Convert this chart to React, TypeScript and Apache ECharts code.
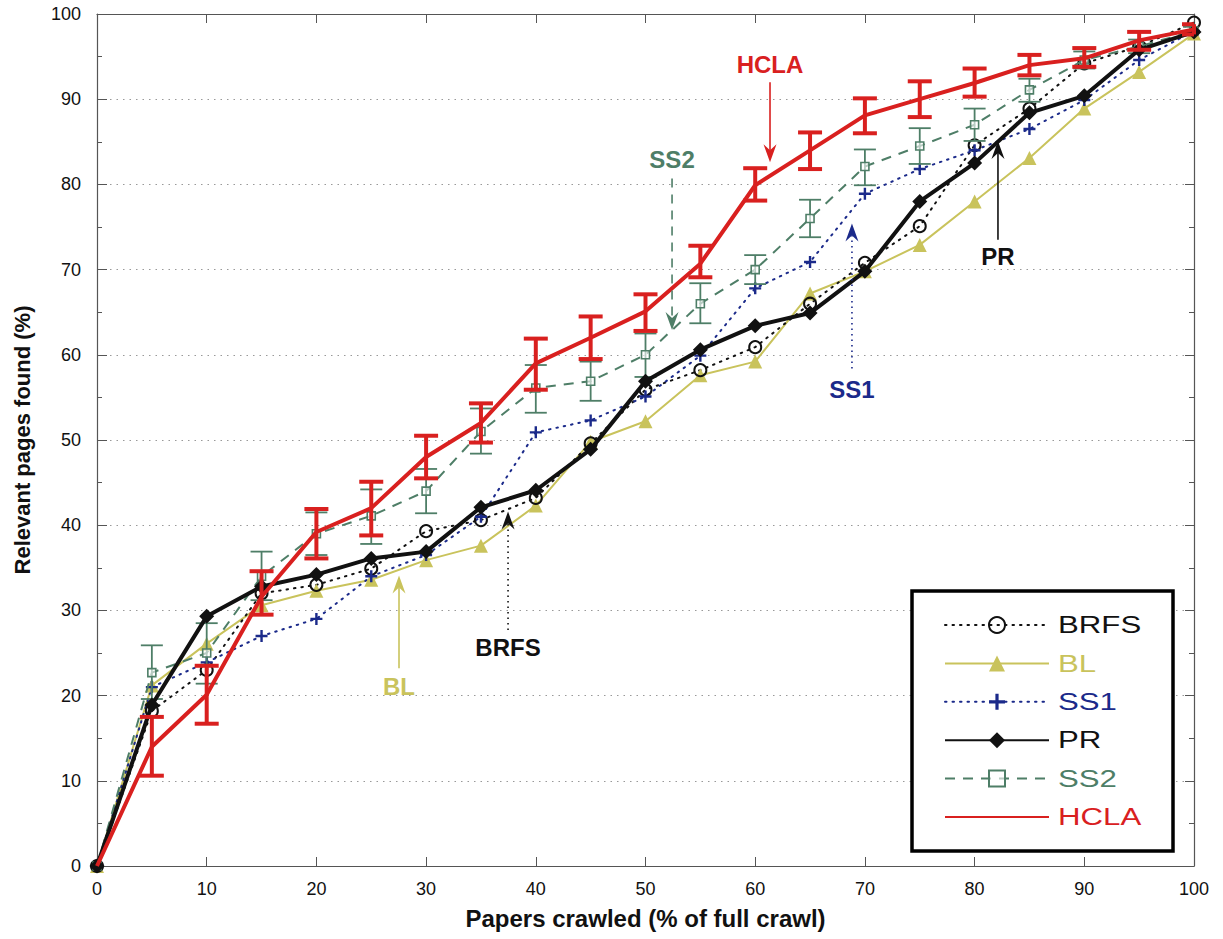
import React, { useEffect, useRef } from "react";
import * as echarts from "echarts";

const X = [0, 5, 10, 15, 20, 25, 30, 35, 40, 45, 50, 55, 60, 65, 70, 75, 80, 85, 90, 95, 100];
const BRFS = [0, 18.2, 23.0, 32.0, 33.0, 34.9, 39.3, 40.6, 43.2, 49.6, 55.9, 58.2, 60.9, 66.0, 70.8, 75.1, 84.6, 88.9, 94.2, 96.2, 99.0];
const BL = [0, 21.2, 26.1, 30.6, 32.3, 33.6, 35.9, 37.6, 42.3, 49.8, 52.2, 57.6, 59.2, 67.2, 69.8, 72.9, 78.0, 83.1, 88.9, 93.2, 97.7];
const SS1 = [0, 21.0, 23.9, 27.0, 29.0, 34.0, 36.5, 41.0, 50.9, 52.3, 55.1, 59.9, 67.8, 70.9, 78.9, 81.8, 84.0, 86.5, 89.9, 94.6, 98.0];
const PR = [0, 18.9, 29.3, 32.8, 34.2, 36.1, 36.9, 42.1, 44.1, 48.9, 56.9, 60.6, 63.4, 64.9, 69.8, 78.0, 82.5, 88.4, 90.4, 95.8, 97.9];
const SS2 = [0, 22.7, 25.0, 34.0, 39.0, 41.1, 44.0, 51.0, 56.1, 56.9, 60.0, 66.0, 70.0, 76.0, 82.1, 84.5, 87.0, 91.1, 94.6, 96.2, 98.0];
const SS2_LO = [0, 19.6, 21.4, 31.2, 36.5, 37.8, 41.4, 48.4, 53.2, 54.6, 57.4, 63.7, 68.3, 73.8, 79.9, 82.4, 85.1, 89.7, 93.6, 95.4, 97.5];
const SS2_HI = [0, 25.9, 28.5, 36.9, 41.5, 44.2, 46.6, 53.7, 58.8, 59.2, 62.5, 68.4, 71.7, 78.2, 84.1, 86.6, 88.9, 92.4, 95.6, 97.0, 98.5];
const HCLA = [0, 14.0, 20.1, 31.6, 39.2, 42.0, 48.0, 52.0, 59.0, 62.0, 65.1, 70.7, 79.9, 84.0, 88.1, 90.0, 91.9, 94.0, 94.8, 96.9, 98.2];
const HCLA_LO = [0, 10.6, 16.7, 29.5, 36.1, 38.8, 45.5, 49.7, 55.9, 59.5, 62.8, 69.1, 78.1, 81.8, 86.0, 87.9, 90.3, 92.8, 93.8, 95.8, 97.6];
const HCLA_HI = [0, 17.5, 23.5, 34.6, 41.9, 45.1, 50.5, 54.3, 61.9, 64.5, 67.1, 72.8, 81.9, 86.1, 90.1, 92.1, 93.6, 95.2, 96.0, 97.9, 98.8];

const LEGEND_ORDER = ["BRFS", "BL", "SS1", "PR", "SS2", "HCLA"];
const X_TITLE = "Papers crawled (% of full crawl)";
const Y_TITLE = "Relevant pages found (%)";

const RED = "#d9201f";
const YEL = "#c9c35c";
const BLUE = "#1b2a8a";
const GREEN = "#4e7e67";
const BLACK = "#111111";
const FONT = "'Liberation Sans', Arial, Helvetica, sans-serif";
const LEGEND_COLORS: Record<string, string> = { BRFS: BLACK, BL: YEL, SS1: BLUE, PR: BLACK, SS2: GREEN, HCLA: RED };

const PLUS = "path://M4,0 L6,0 L6,4 L10,4 L10,6 L6,6 L6,10 L4,10 L4,6 L0,6 L0,4 L4,4 Z";

// annotation label / arrow positions in data coordinates
const ANNOTATIONS = [
  { label: "HCLA", color: RED, text: [61.35, 94.1], from: [61.35, 92.0], to: [61.35, 82.6], dash: null as number[] | null },
  { label: "SS2", color: GREEN, text: [52.42, 82.9], from: [52.42, 80.7], to: [52.42, 62.9], dash: [9, 7] },
  { label: "SS1", color: BLUE, text: [68.82, 55.9], from: [68.82, 58.4], to: [68.82, 75.4], dash: [1.5, 4] },
  { label: "PR", color: BLACK, text: [82.13, 71.5], from: [82.13, 73.5], to: [82.13, 85.1], dash: null },
  { label: "BRFS", color: BLACK, text: [37.47, 25.6], from: [37.47, 27.7], to: [37.47, 41.6], dash: [1.5, 4] },
  { label: "BL", color: YEL, text: [27.53, 21.1], from: [27.53, 23.2], to: [27.53, 34.1], dash: null },
];

const ERRORS = [
  { lo: SS2_LO, hi: SS2_HI, color: GREEN, width: 1.8, cap: 11, z: 4 },
  { lo: HCLA_LO, hi: HCLA_HI, color: RED, width: 4, cap: 12, z: 6 },
];

const pairs = (ys: number[]) => X.map((x, i) => [x, ys[i]]);

function makeOption(): any {
  const mkLine = () => ({ show: true, onZero: false, lineStyle: { color: "#555", width: 1.2 } });
  return {
    animation: false,
    grid: { left: 97, right: 29, top: 14, bottom: 73 },
    xAxis: [
      {
        type: "value", min: 0, max: 100, interval: 10, position: "bottom",
        axisLine: mkLine(), axisTick: { inside: true, length: 9, lineStyle: { color: "#555" } },
        axisLabel: { fontSize: 18, color: "#111", margin: 14, fontFamily: FONT },
        splitLine: { show: false },
      },
      {
        type: "value", min: 0, max: 100, interval: 10, position: "top",
        axisLine: mkLine(), axisTick: { inside: true, length: 9, lineStyle: { color: "#555" } },
        axisLabel: { show: false },
        splitLine: { show: false },
      },
    ],
    yAxis: [
      {
        type: "value", min: 0, max: 100, interval: 10, position: "left",
        axisLine: mkLine(), axisTick: { inside: true, length: 10, lineStyle: { color: "#555" } },
        minorTick: { show: true, splitNumber: 2, length: 5, lineStyle: { color: "#555" } },
        axisLabel: { fontSize: 18, color: "#111", margin: 16, fontFamily: FONT },
        splitLine: { show: true, lineStyle: { color: "#999", type: [1.5, 5], width: 1.2 } },
      },
      {
        type: "value", min: 0, max: 100, interval: 10, position: "right",
        axisLine: mkLine(), axisTick: { inside: true, length: 9, lineStyle: { color: "#555" } },
        minorTick: { show: true, splitNumber: 2, length: 5, lineStyle: { color: "#555" } },
        axisLabel: { show: false },
        splitLine: { show: false },
      },
    ],
    legend: {
      data: LEGEND_ORDER.map((n) => (n === "HCLA" ? { name: n, itemStyle: { opacity: 0 } } : { name: n })),
      orient: "vertical",
      left: 944,
      top: 613,
      itemWidth: 104,
      itemHeight: 20,
      itemGap: 14.4,
      padding: 0,
      selectedMode: false,
      z: 6,
      textStyle: { fontSize: 24, fontFamily: FONT, lineHeight: 24, color: "rgba(0,0,0,0)" },
    },
    series: [
      {
        name: "BL", type: "line", data: pairs(BL), z: 3,
        symbol: "triangle", symbolSize: 14,
        itemStyle: { color: YEL },
        lineStyle: { color: YEL, width: 2 },
      },
      {
        name: "BRFS", type: "line", data: pairs(BRFS), z: 3,
        symbol: "circle", symbolSize: 12,
        itemStyle: { color: "rgba(255,255,255,0)", borderColor: BLACK, borderWidth: 2 },
        lineStyle: { color: BLACK, width: 2, type: [1.5, 6], cap: "round" },
      },
      {
        name: "SS1", type: "line", data: pairs(SS1), z: 3,
        symbol: PLUS, symbolSize: 12,
        itemStyle: { color: BLUE },
        lineStyle: { color: BLUE, width: 2, type: [1.5, 6], cap: "round" },
      },
      {
        name: "SS2", type: "line", data: pairs(SS2), z: 4,
        symbol: "rect", symbolSize: 8,
        itemStyle: { color: "rgba(255,255,255,0.6)", borderColor: GREEN, borderWidth: 1.6 },
        lineStyle: { color: GREEN, width: 2, type: [10, 8] },
      },
      {
        name: "PR", type: "line", data: pairs(PR), z: 5,
        symbol: "diamond", symbolSize: 15,
        itemStyle: { color: BLACK },
        lineStyle: { color: BLACK, width: 4 },
      },
      {
        name: "HCLA", type: "line", data: pairs(HCLA), z: 6,
        symbol: "none",
        itemStyle: { color: RED },
        lineStyle: { color: RED, width: 4 },
      },
    ],
  };
}

export default function App() {
  const ref = useRef<HTMLDivElement>(null);
  useEffect(() => {
    if (!ref.current) return;
    const chart = echarts.init(ref.current, undefined, { renderer: "svg" });
    chart.setOption(makeOption());

    const toPx = (p: number[]) => chart.convertToPixel({ xAxisIndex: 0, yAxisIndex: 0 } as any, p) as number[];
    const p00 = toPx([0, 0]);
    const p11 = toPx([100, 100]);
    const right = p11[0];
    const elements: any[] = [
      {
        type: "rect",
        shape: { x: 912, y: 591, width: 261, height: 260 },
        style: { fill: "#ffffff", stroke: "#000000", lineWidth: 3.5 },
        z: 5,
      },
      {
        type: "text",
        z: 7,
        x: (p00[0] + p11[0]) / 2,
        y: p00[1] + 52,
        style: {
          text: X_TITLE, fill: "#111", fontSize: 24, fontWeight: "bold", fontFamily: FONT,
          textAlign: "center", textVerticalAlign: "middle", align: "center", verticalAlign: "middle",
        },
      },
      {
        type: "text",
        z: 7,
        x: p00[0] - 75,
        y: (p00[1] + p11[1]) / 2,
        rotation: Math.PI / 2,
        style: {
          text: Y_TITLE, fill: "#111", fontSize: 22, fontWeight: "bold", fontFamily: FONT,
          textAlign: "center", textVerticalAlign: "middle", align: "center", verticalAlign: "middle",
        },
      },
    ];
    // error bars, placed through the axes' scales
    ERRORS.forEach((e) => {
      X.forEach((x, i) => {
        if (e.hi[i] - e.lo[i] < 0.01) return;
        const a = toPx([x, e.lo[i]]);
        const b = toPx([x, e.hi[i]]);
        const st = () => ({ stroke: e.color, lineWidth: e.width });
        const cr = (v: number) => Math.min(v, right);
        elements.push({ type: "line", z: e.z, shape: { x1: a[0], y1: a[1], x2: b[0], y2: b[1] }, style: st() });
        elements.push({ type: "line", z: e.z, shape: { x1: a[0] - e.cap, y1: a[1], x2: cr(a[0] + e.cap), y2: a[1] }, style: st() });
        elements.push({ type: "line", z: e.z, shape: { x1: b[0] - e.cap, y1: b[1], x2: cr(b[0] + e.cap), y2: b[1] }, style: st() });
      });
    });
    // legend labels (stretched like the original)
    LEGEND_ORDER.forEach((n, i) => {
      elements.push({
        type: "text",
        z: 7,
        x: 1058,
        y: 625 + i * 38.4,
        scaleX: 1.3,
        style: {
          text: n, fill: LEGEND_COLORS[n], fontSize: 24, fontFamily: FONT,
          textAlign: "left", textVerticalAlign: "middle", align: "left", verticalAlign: "middle",
        },
      });
    });
    ANNOTATIONS.forEach((a) => {
      const t = toPx(a.text);
      const f = toPx(a.from);
      const tip = toPx(a.to);
      const dx = tip[0] - f[0];
      const dy = tip[1] - f[1];
      const len = Math.sqrt(dx * dx + dy * dy) || 1;
      const ux = dx / len, uy = dy / len;
      const nx = -uy, ny = ux;
      const L = 18, W = 6.5, N = 12;
      const back = [tip[0] - ux * N, tip[1] - uy * N];
      elements.push({
        type: "line",
        z: 7,
        shape: { x1: f[0], y1: f[1], x2: back[0], y2: back[1] },
        style: { stroke: a.color, lineWidth: 1.6, lineDash: a.dash || undefined },
      });
      elements.push({
        type: "polygon",
        z: 7,
        shape: {
          points: [
            [tip[0], tip[1]],
            [tip[0] - ux * L + nx * W, tip[1] - uy * L + ny * W],
            [back[0], back[1]],
            [tip[0] - ux * L - nx * W, tip[1] - uy * L - ny * W],
          ],
        },
        style: { fill: a.color },
      });
      elements.push({
        type: "text",
        z: 7,
        x: t[0],
        y: t[1],
        style: {
          text: a.label, fill: a.color, fontSize: 24, fontWeight: "bold", fontFamily: FONT,
          textAlign: "center", textVerticalAlign: "middle", align: "center", verticalAlign: "middle",
        },
      });
    });
    const full = makeOption();
    full.graphic = { elements };
    chart.setOption(full, true);

    return () => {
      chart.dispose();
    };
  }, []);
  return (
    <div
      ref={ref}
      style={{ position: "fixed", left: 0, top: 0, width: 1223, height: 939, background: "#fff" }}
    />
  );
}
